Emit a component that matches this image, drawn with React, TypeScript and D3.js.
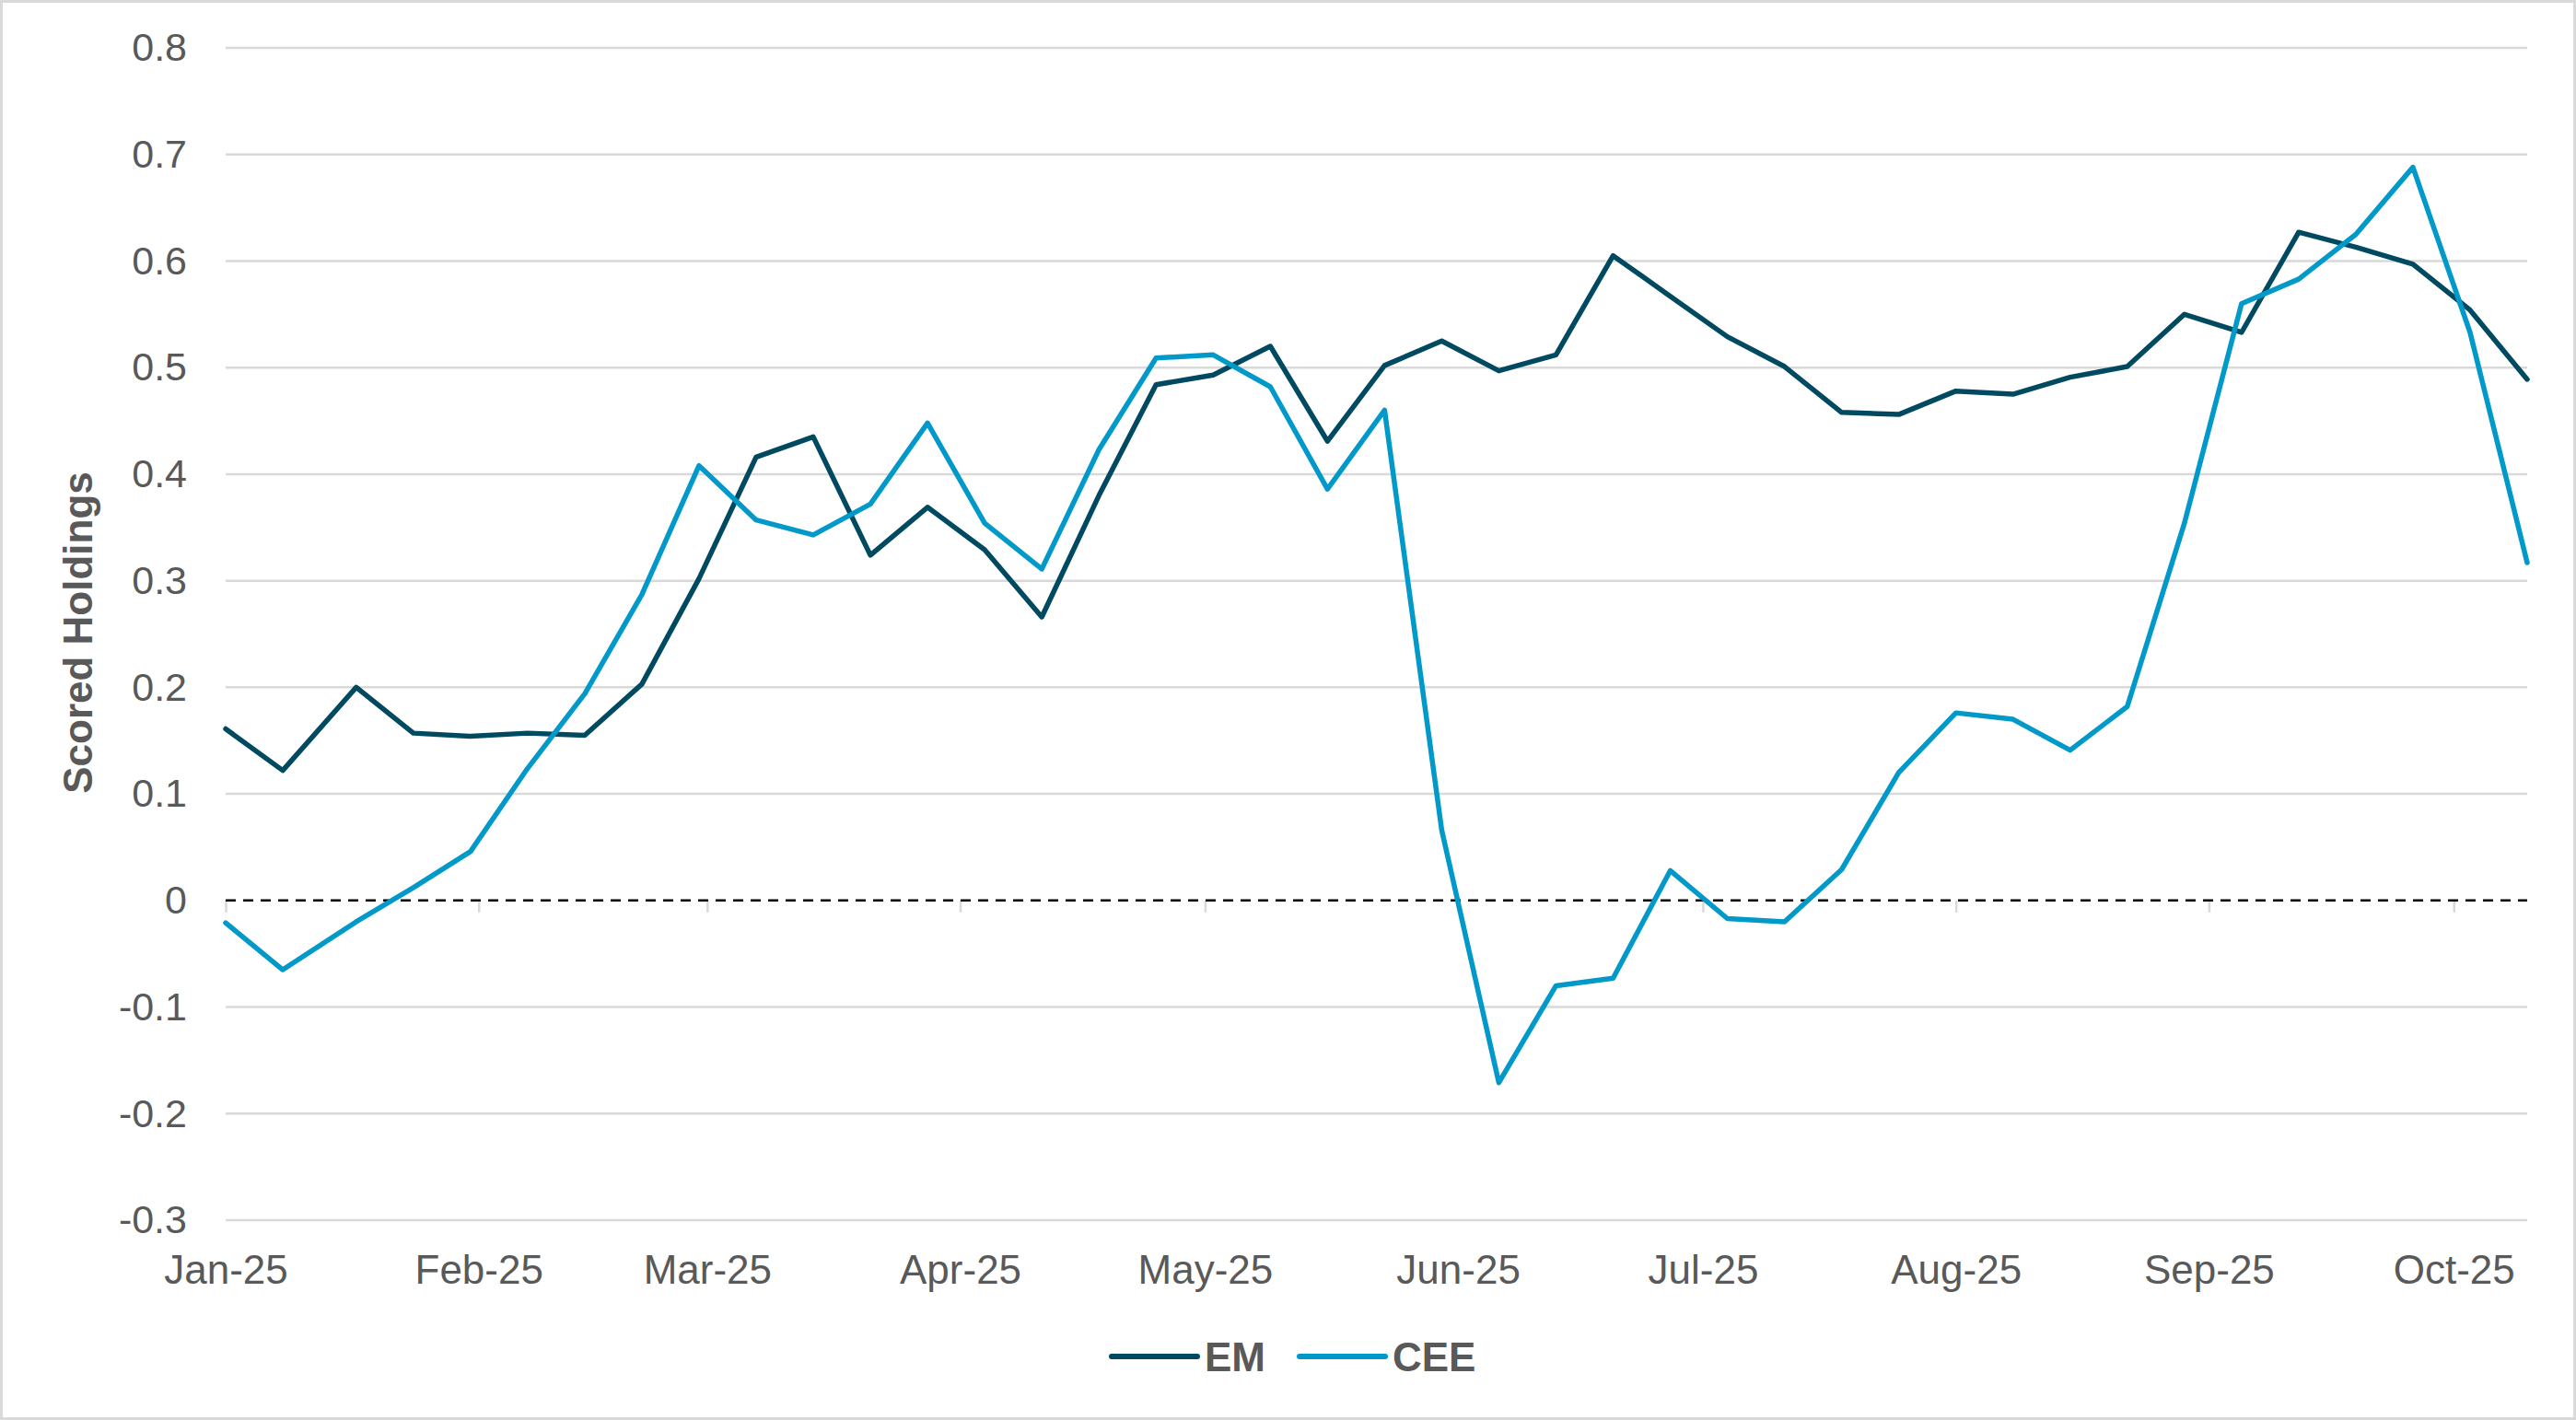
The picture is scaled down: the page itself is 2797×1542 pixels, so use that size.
import * as d3 from 'd3';
import React, { useEffect, useRef } from 'react';

// weekly observation dates
const dates = [
  '2025-01-01', '2025-01-08', '2025-01-17', '2025-01-24', '2025-01-31',
  '2025-02-07', '2025-02-14', '2025-02-21', '2025-02-28', '2025-03-07',
  '2025-03-14', '2025-03-21', '2025-03-28', '2025-04-04', '2025-04-11',
  '2025-04-18', '2025-04-25', '2025-05-02', '2025-05-09', '2025-05-16',
  '2025-05-23', '2025-05-30', '2025-06-06', '2025-06-13', '2025-06-20',
  '2025-06-27', '2025-07-04', '2025-07-11', '2025-07-18', '2025-07-25',
  '2025-08-01', '2025-08-08', '2025-08-15', '2025-08-22', '2025-08-29',
  '2025-09-05', '2025-09-12', '2025-09-19', '2025-09-26', '2025-10-03',
  '2025-10-10',
];

const emValues = [
  0.161, 0.122, 0.200, 0.157, 0.154, 0.157, 0.155, 0.203, 0.302, 0.416,
  0.435, 0.324, 0.369, 0.329, 0.266, 0.380, 0.484, 0.493, 0.520, 0.431,
  0.502, 0.525, 0.497, 0.512, 0.605, 0.567, 0.529, 0.501, 0.458, 0.456,
  0.478, 0.475, 0.491, 0.501, 0.550, 0.533, 0.627, 0.613, 0.597, 0.554,
  0.489,
];

const ceeValues = [
  -0.021, -0.065, -0.020, 0.012, 0.046, 0.124, 0.194, 0.287, 0.408, 0.357,
  0.343, 0.372, 0.448, 0.354, 0.311, 0.423, 0.509, 0.512, 0.482, 0.386,
  0.460, 0.066, -0.171, -0.080, -0.073, 0.028, -0.017, -0.020, 0.029, 0.120,
  0.176, 0.170, 0.141, 0.182, 0.354, 0.560, 0.583, 0.625, 0.688, 0.533,
  0.317,
];

const monthTicks = [
  '2025-01-01', '2025-02-01', '2025-03-01', '2025-04-01', '2025-05-01',
  '2025-06-01', '2025-07-01', '2025-08-01', '2025-09-01', '2025-10-01',
];

const yTicks = [-0.3, -0.2, -0.1, 0, 0.1, 0.2, 0.3, 0.4, 0.5, 0.6, 0.7, 0.8];

const seriesNames = ['EM', 'CEE'];
const seriesColors = ['#004A61', '#0099C9'];

const App: React.FC = () => {
  const ref = useRef<SVGSVGElement>(null);

  useEffect(() => {
    document.body.style.margin = '0';
    if (!ref.current) return;

    const width = 2797;
    const height = 1542;
    const left = 245;
    const right = 2744;
    const top = 52;
    const bottom = 1325;
    const font = '"Liberation Sans", Arial, sans-serif';
    const textColor = '#595959';

    const parse = d3.utcParse('%Y-%m-%d');
    const dateObjs = dates.map(d => parse(d) as Date);

    d3.select(ref.current).selectAll('*').remove();

    const svg = d3.select(ref.current)
      .attr('width', width)
      .attr('height', height);

    svg.append('rect')
      .attr('width', width)
      .attr('height', height)
      .attr('fill', '#ffffff');

    svg.append('rect')
      .attr('x', 1.5)
      .attr('y', 1.5)
      .attr('width', width - 3)
      .attr('height', height - 3)
      .attr('fill', 'none')
      .attr('stroke', '#D9D9D9')
      .attr('stroke-width', 3);

    const x = d3.scaleUtc()
      .domain([dateObjs[0], dateObjs[dateObjs.length - 1]])
      .range([left, right]);

    const y = d3.scaleLinear()
      .domain([-0.3, 0.8])
      .range([bottom, top]);

    // gridlines
    svg.append('g')
      .selectAll('line')
      .data(yTicks.filter(t => t !== 0))
      .enter()
      .append('line')
      .attr('x1', left)
      .attr('x2', right)
      .attr('y1', d => y(d))
      .attr('y2', d => y(d))
      .attr('stroke', '#D9D9D9')
      .attr('stroke-width', 2.5);

    // y axis labels
    const yAxis = svg.append('g')
      .attr('transform', `translate(203,0)`)
      .call(d3.axisLeft(y).tickValues(yTicks).tickSize(0).tickPadding(0).tickFormat(d => String(+d)));
    yAxis.select('.domain').remove();
    yAxis.selectAll('text')
      .attr('font-family', font)
      .attr('font-size', 43)
      .attr('fill', textColor);

    // tick marks hanging from zero line
    const monthDates = monthTicks.map(d => parse(d) as Date);
    const tickAxis = svg.append('g')
      .attr('transform', `translate(0,${y(0)})`)
      .call(d3.axisBottom(x).tickValues(monthDates).tickSize(13).tickFormat(() => ''));
    tickAxis.select('.domain').remove();
    tickAxis.selectAll('line')
      .attr('stroke', '#D9D9D9')
      .attr('stroke-width', 2.5);

    // month labels under the plot
    const labelAxis = svg.append('g')
      .attr('transform', `translate(0,${bottom})`)
      .call(d3.axisBottom(x).tickValues(monthDates).tickSize(0).tickPadding(38)
        .tickFormat(d => d3.utcFormat('%b-%y')(d as Date)));
    labelAxis.select('.domain').remove();
    labelAxis.selectAll('text')
      .attr('font-family', font)
      .attr('font-size', 44)
      .attr('fill', textColor);

    // zero line
    svg.append('line')
      .attr('x1', left)
      .attr('x2', right)
      .attr('y1', y(0))
      .attr('y2', y(0))
      .attr('stroke', '#000000')
      .attr('stroke-width', 2.5)
      .attr('stroke-dasharray', '11,8');

    const line = d3.line<number>()
      .x((d, i) => x(dateObjs[i]))
      .y(d => y(d));

    [emValues, ceeValues].forEach((vals, k) => {
      svg.append('path')
        .datum(vals)
        .attr('d', line)
        .attr('fill', 'none')
        .attr('stroke', seriesColors[k])
        .attr('stroke-width', 5.5)
        .attr('stroke-linejoin', 'round')
        .attr('stroke-linecap', 'round');
    });

    // axis title
    svg.append('text')
      .attr('transform', `translate(100,687) rotate(-90)`)
      .attr('text-anchor', 'middle')
      .attr('font-family', font)
      .attr('font-size', 44)
      .attr('font-weight', 'bold')
      .attr('fill', textColor)
      .text('Scored Holdings');

    // legend
    const legendX = [1207, 1411];
    const legend = svg.selectAll('.legend')
      .data(seriesNames)
      .enter()
      .append('g')
      .attr('class', 'legend')
      .attr('transform', (d, i) => `translate(${legendX[i]},1473)`);

    legend.append('line')
      .attr('x1', 0)
      .attr('x2', 93)
      .attr('stroke', (d, i) => seriesColors[i])
      .attr('stroke-width', 6)
      .attr('stroke-linecap', 'round');

    legend.append('text')
      .attr('x', 101)
      .attr('dy', '0.36em')
      .attr('font-family', font)
      .attr('font-size', 44)
      .attr('font-weight', 'bold')
      .attr('fill', textColor)
      .text(d => d);
  }, []);

  return <svg ref={ref} style={{ display: 'block' }} />;
};

export default App;
